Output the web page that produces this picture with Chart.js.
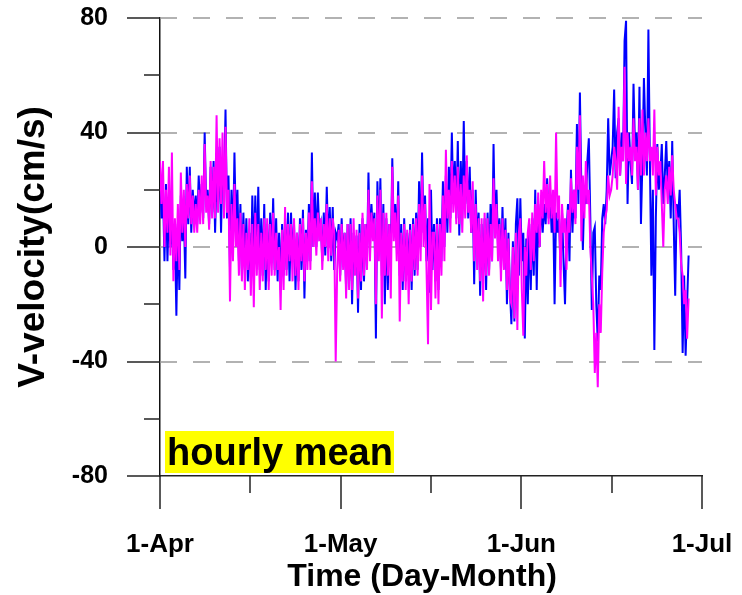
<!DOCTYPE html>
<html><head><meta charset="utf-8">
<script src="https://cdn.jsdelivr.net/npm/chart.js@4.4.0/dist/chart.umd.min.js"></script>
<style>html,body{margin:0;padding:0;background:#fff;}#wrap{width:742px;height:595px;position:relative;}</style>
</head><body><div id="wrap"><canvas id="c" width="742" height="595"></canvas></div>
<script>
// ---- data ----
const xTickDays = [0, 30.333, 60.667, 91];
const xTickLabels = ['1-Apr', '1-May', '1-Jun', '1-Jul'];
const xMinorDays = [15.167, 45.5, 75.833];
const yMajor = [-80, -40, 0, 40, 80];
const yMinor = [-60, -20, 20, 60];
const yGrid = [-40, 0, 40, 80];
const samplesPerDay = 4; // values read every 6 hours, starting 1-Apr 00:00
const blueV = [
28,10,20,-5, 22,-5,15,0, 10,-8,5,-24, 8,-15,18,2, 12,-11,28,8,
28,5,20,10, 18,8,25,12, 22,10,40,15, 20,8,28,12, 30,5,25,15,
35,5,30,20, 48,10,25,-7, 20,0,33,5, 20,-5,15,-10, 12,-8,10,-12,
5,-12,18,-5, 18,-5,21,-8, 10,-10,15,-15, 8,-12,12,-5, 17,-8,10,-12,
5,-15,8,-10, 10,-8,12,-12, 12,-5,8,-15, 5,-12,10,-8, 13,-18,6,-5,
15,-5,33,0, 19,0,19,5, 8,-5,12,-3, 21,0,14,-5, 14,-8,5,3,
8,-10,10,-5, 5,-15,8,-12, 10,-20,5,-8, 4,-23,8,-15, 10,-12,8,-5,
26,0,15,5, 12,-32,23,0, 24,-10,15,-20, 10,-15,8,-5, 31,5,15,0,
23,-10,8,-15, 10,-12,5,-8, 8,-15,10,-10, 12,-8,23,0, 33,5,18,-5,
10,-16,20,-8, 8,-12,10,-15, 10,-5,23,0, 25,5,28,10, 40,15,30,10,
37,4,30,10, 44,15,30,10, 28,5,20,-13, 20,0,12,-17, 8,-10,10,-15,
12,-8,15,-5, 36,5,20,0, 10,-8,14,-5, 10,-20,5,-15, -27,2,-26,8,
17,-10,17,-5, 5,-32,3,-20, 8,-15,10,-10, 20,-15,15,0, 18,5,15,8,
24,10,20,5, 15,-20,12,5, 10,-8,12,-5, -20,5,15,-5, 27,5,20,10,
43,15,54,20, -1,20,15,30, 38,10,-22,5, 7,-20,-33,-10, -15,10,15,8,
20,45,25,30, 35,55,24,40, 45,25,40,30, 72,79,15,40, 30,22,57,35,
40,20,56,8, 30,59,40,25, 76,30,-10,20, -36,10,36,20, 25,36,15,25,
37,20,30,10, 37,8,-17,15, 10,20,-1,-37, -10,-38,-20,-3
];
const magentaV = [
30,15,30,0, 20,5,28,-3, 33,-12,10,-5, 15,-8,26,5, 20,0,22,10,
25,8,18,5, 15,5,20,8, 25,8,36,12, 18,6,30,10, 28,10,46,12,
38,15,40,10, 42,12,20,-19, 15,-5,22,0, 10,-10,12,-12, 8,-15,5,-8,
10,-17,8,-21, 12,-10,8,-15, 5,-12,10,-8, 10,-15,8,-10, 12,-10,5,-8,
0,-22,6,-15, 14,-10,8,-5, 8,-12,10,-10, 5,-15,8,-5, 10,-12,5,-8,
12,-8,23,0, 10,-3,12,2, 10,-8,8,0, 15,-5,10,-3, 10,5,-40,-8,
6,-12,8,-8, 5,-18,8,-15, 8,-15,10,-10, 6,-18,5,-12, 12,-10,8,-8,
20,-5,12,2, 10,-20,18,-5, 20,-25,12,-10, 12,-10,8,-18, 28,2,12,-5,
18,-26,5,-12, 8,-15,6,-20, 6,-12,8,-8, 10,-10,15,-5, 25,0,15,-8,
-34,22,-22,5, 5,-18,8,-20, 8,-10,18,-5, 34,10,20,5, 30,12,25,8,
28,8,22,5, 25,10,32,12, 20,5,23,-5, 15,-8,10,-12, 10,-19,12,-10,
10,-10,8,-5, 24,3,15,-5, 8,-12,10,-8, 6,-15,3,-18, -20,0,-25,5,
-29,5,10,-15, -31,0,-10,5, 10,-8,12,-5, 15,5,19,0, 20,10,30,12,
22,8,25,10, 20,5,40,10, 18,-14,15,5, 10,-8,13,5, 24,12,20,8,
35,20,46,2, 25,10,30,15, 20,0,-10,-20, -44,-30,-49,-20, -30,-9,5,10,
13,25,18,20, 25,35,30,20, 49,25,35,30, 63,22,40,30, 35,25,45,30,
35,20,45,25, 48,25,40,30, 45,30,35,25, 48,18,35,25, 30,15,0,20,
25,15,28,18, 32,20,15,10, 10,5,-6,-10, -20,-15,-32,-18
];

const FONT = '"Liberation Sans", Arial, Helvetica, sans-serif';
const toPts = arr => arr.map((v, i) => ({ x: i / samplesPerDay, y: v }));

const decor = {
  id: 'decor',
  beforeDatasetsDraw(chart) {
    const { ctx, chartArea: a, scales: { y } } = chart;
    ctx.save();
    ctx.strokeStyle = '#999999';
    ctx.lineWidth = 1.5;
    ctx.setLineDash([17, 16]);
    yGrid.forEach(v => {
      const py = Math.round(y.getPixelForValue(v));
      ctx.beginPath(); ctx.moveTo(a.left, py); ctx.lineTo(a.right, py); ctx.stroke();
    });
    ctx.restore();
  },
  afterDraw(chart) {
    const { ctx, chartArea: a, scales: { x, y } } = chart;
    ctx.save();
    ctx.strokeStyle = '#222';
    ctx.lineWidth = 1.5;
    const hl = (v, len) => { const py = Math.round(y.getPixelForValue(v)); ctx.beginPath(); ctx.moveTo(a.left - len, py); ctx.lineTo(a.left, py); ctx.stroke(); };
    const vl = (v, len) => { const px = Math.round(x.getPixelForValue(v)); ctx.beginPath(); ctx.moveTo(px, a.bottom); ctx.lineTo(px, a.bottom + len); ctx.stroke(); };
    yMajor.forEach(v => hl(v, 33));
    yMinor.forEach(v => hl(v, 16));
    xTickDays.forEach(v => vl(v, 33));
    xMinorDays.forEach(v => vl(v, 17));
    // "hourly mean" label box
    const bx = a.left + 5, by = a.bottom - 45;
    ctx.fillStyle = '#ffff00';
    ctx.fillRect(bx, by, 229, 42);
    ctx.fillStyle = '#000';
    ctx.font = 'bold 38px ' + FONT;
    ctx.textBaseline = 'alphabetic';
    ctx.textAlign = 'left';
    ctx.fillText('hourly mean', bx + 2, by + 34);
    ctx.restore();
  }
};

new Chart(document.getElementById('c'), {
  type: 'line',
  data: {
    datasets: [
      { label: 'magenta', data: toPts(magentaV), borderColor: '#ff00ff', borderWidth: 2, pointRadius: 0, tension: 0 },
      { label: 'blue', data: toPts(blueV), borderColor: '#0000ff', borderWidth: 2, pointRadius: 0, tension: 0 }
    ]
  },
  options: {
    responsive: false,
    animation: false,
    devicePixelRatio: 1,
    layout: { padding: { top: 18, right: 40, left: 0, bottom: 0 } },
    plugins: { legend: { display: false }, tooltip: { enabled: false } },
    scales: {
      x: {
        type: 'linear', min: 0, max: 91,
        afterBuildTicks: s => { s.ticks = xTickDays.map(v => ({ value: v })); },
        afterFit: s => { s.height = 119; s.paddingLeft = 0; s.paddingRight = 0; },
        ticks: { callback: (v, i) => xTickLabels[i], color: '#000', font: { family: FONT, size: 26, weight: 'bold' }, padding: 53, maxRotation: 0, autoSkip: false },
        grid: { display: false, drawTicks: false },
        border: { display: true, color: '#222', width: 1.5 },
        title: { display: true, text: 'Time (Day-Month)\u00a0\u00a0', color: '#000', font: { family: FONT, size: 32, weight: 'bold' }, padding: { top: 0, bottom: -1 } }
      },
      y: {
        type: 'linear', min: -80, max: 80,
        afterBuildTicks: s => { s.ticks = yMajor.map(v => ({ value: v })); },
        afterFit: s => { s.width = 160; s.paddingTop = 0; s.paddingBottom = 0; },
        ticks: { color: '#000', font: { family: FONT, size: 25, weight: 'bold' }, padding: 52 },
        grid: { display: false, drawTicks: false },
        border: { display: true, color: '#111', width: 1.5 },
        title: { display: true, text: 'V-velocity(cm/s)', color: '#000', font: { family: FONT, size: 37, weight: 'bold' }, padding: { top: 12, bottom: 0 } }
      }
    }
  },
  plugins: [decor]
});
</script>
</body></html>
